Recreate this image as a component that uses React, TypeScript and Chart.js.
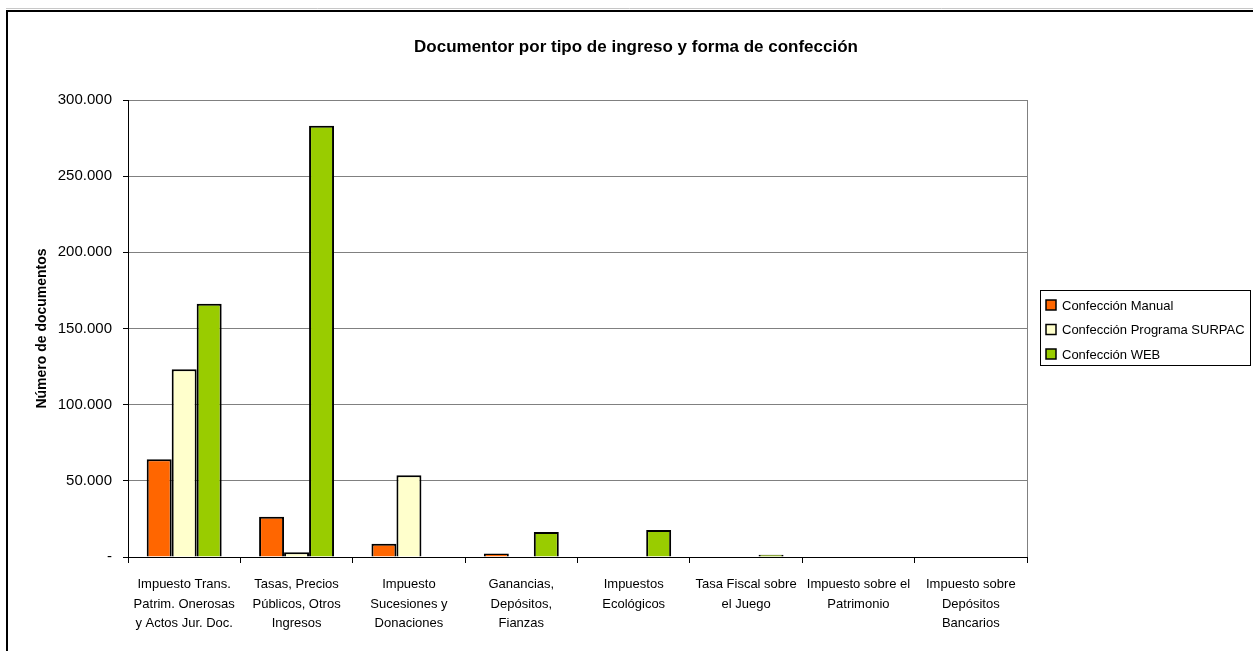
import React, { useEffect, useRef } from "react";
import { Chart, registerables } from "chart.js";

Chart.register(...registerables);

const categories: string[][] = [
  ["Impuesto Trans.", "Patrim. Onerosas", "y Actos Jur. Doc."],
  ["Tasas, Precios", "Públicos, Otros", "Ingresos"],
  ["Impuesto", "Sucesiones y", "Donaciones"],
  ["Ganancias,", "Depósitos,", "Fianzas"],
  ["Impuestos", "Ecológicos"],
  ["Tasa Fiscal sobre", "el Juego"],
  ["Impuesto sobre el", "Patrimonio"],
  ["Impuesto sobre", "Depósitos", "Bancarios"],
];

const manualValues = [64100, 26500, 8700, 2300, 0, 400, 0, 0];
const surpacValues = [123200, 3100, 53600, 0, 0, 0, 0, 0];
const webValues = [166300, 283100, 0, 16400, 17700, 1500, 0, 0];

const seriesNames = ["Confección Manual", "Confección Programa SURPAC", "Confección WEB"];
const seriesColors = ["#FF6600", "#FFFFCC", "#99CC00"];

const chartTitle = "Documentor por tipo de ingreso y forma de confección";
const yAxisTitle = "Número de documentos";
const yTickValues = [0, 50000, 100000, 150000, 200000, 250000, 300000];

const FONT = "'Liberation Sans', Arial, sans-serif";

function fmt(v: number): string {
  if (v === 0) return "-";
  return String(Math.round(v)).replace(/\B(?=(\d{3})+(?!\d))/g, ".");
}

const decorPlugin = {
  id: "decor",
  beforeDraw(chart: any) {
    const ctx = chart.ctx;
    ctx.save();
    ctx.fillStyle = "#fff";
    ctx.fillRect(0, 0, chart.width, chart.height);
    ctx.restore();
  },
  afterDraw(chart: any) {
    const ctx = chart.ctx;
    const ca = chart.chartArea;
    ctx.save();
    // outer frame
    ctx.strokeStyle = "#c8c8c8";
    ctx.lineWidth = 1;
    ctx.beginPath();
    ctx.moveTo(6, 8.5);
    ctx.lineTo(chart.width, 8.5);
    ctx.stroke();
    ctx.strokeStyle = "#000";
    ctx.lineWidth = 2;
    ctx.beginPath();
    ctx.moveTo(7, chart.height + 2);
    ctx.lineTo(7, 11);
    ctx.lineTo(chart.width + 2, 11);
    ctx.stroke();
    // plot area right frame
    ctx.strokeStyle = "#808080";
    ctx.lineWidth = 1;
    ctx.beginPath();
    ctx.moveTo(Math.round(ca.right) + 0.5, ca.top);
    ctx.lineTo(Math.round(ca.right) + 0.5, ca.bottom);
    ctx.stroke();
    // title
    ctx.fillStyle = "#000";
    ctx.font = `bold 17px ${FONT}`;
    ctx.textAlign = "center";
    ctx.textBaseline = "middle";
    ctx.fillText(chartTitle, 636, 47);
    // legend
    const lx = 1040, ly = 290, lw = 210, lh = 75;
    ctx.strokeStyle = "#000";
    ctx.lineWidth = 1;
    ctx.strokeRect(lx + 0.5, ly + 0.5, lw, lh);
    ctx.font = `13px ${FONT}`;
    ctx.textAlign = "left";
    chart.data.datasets.forEach((ds: any, i: number) => {
      const cy = 305 + i * 24.5;
      ctx.fillStyle = ds.backgroundColor;
      ctx.fillRect(1046, cy - 5, 10, 10);
      ctx.strokeStyle = "#000";
      ctx.lineWidth = 1.5;
      ctx.strokeRect(1046, cy - 5, 10, 10);
      ctx.fillStyle = "#000";
      ctx.fillText(ds.label, 1062, cy + 1);
    });
    ctx.restore();
  },
};

export default function App() {
  const ref = useRef<HTMLCanvasElement | null>(null);
  useEffect(() => {
    if (!ref.current) return;
    Chart.defaults.font.family = FONT;
    Chart.defaults.color = "#000";
    const chart = new Chart(ref.current, {
      type: "bar",
      data: {
        labels: categories,
        datasets: [manualValues, surpacValues, webValues].map((vals, i) => ({
          label: seriesNames[i],
          data: vals,
          backgroundColor: seriesColors[i],
          borderColor: "#000",
          borderWidth: 2,
          categoryPercentage: 0.667,
          barPercentage: 1,
        })),
      },
      options: {
        animation: false,
        responsive: true,
        maintainAspectRatio: false,
        layout: { padding: { left: 0, top: 100, right: 226, bottom: 0 } },
        plugins: {
          legend: { display: false },
          title: { display: false },
          tooltip: { enabled: false },
        },
        scales: {
          x: {
            offset: true,
            grid: {
              display: true,
              drawOnChartArea: false,
              offset: true,
              tickLength: 6,
              tickColor: "#000",
            },
            border: { display: true, color: "#000", width: 1 },
            ticks: {
              autoSkip: false,
              maxRotation: 0,
              minRotation: 0,
              padding: 12,
              font: { size: 13, lineHeight: 1.5 },
              color: "#000",
            },
            afterFit: (scale: any) => {
              scale.height = 94;
            },
          },
          y: {
            min: 0,
            max: 300000,
            afterBuildTicks: (scale: any) => {
              scale.ticks = yTickValues.map((v) => ({ value: v }));
            },
            grid: {
              color: "#808080",
              tickColor: "#000",
              tickLength: 5,
            },
            border: { display: true, color: "#000", width: 1 },
            ticks: {
              padding: 11,
              font: { size: 15 },
              color: "#000",
              callback: (v: any) => fmt(Number(v)),
            },
            title: {
              display: true,
              text: yAxisTitle,
              font: { size: 14, weight: "bold" },
              padding: { top: 34, bottom: 0 },
              color: "#000",
            },
            afterFit: (scale: any) => {
              scale.width = 128;
            },
          },
        },
      },
      plugins: [decorPlugin],
    });
    return () => chart.destroy();
  }, []);
  return (
    <div style={{ position: "fixed", left: 0, top: 0, width: 1253, height: 651, background: "#fff" }}>
      <canvas ref={ref} />
    </div>
  );
}
